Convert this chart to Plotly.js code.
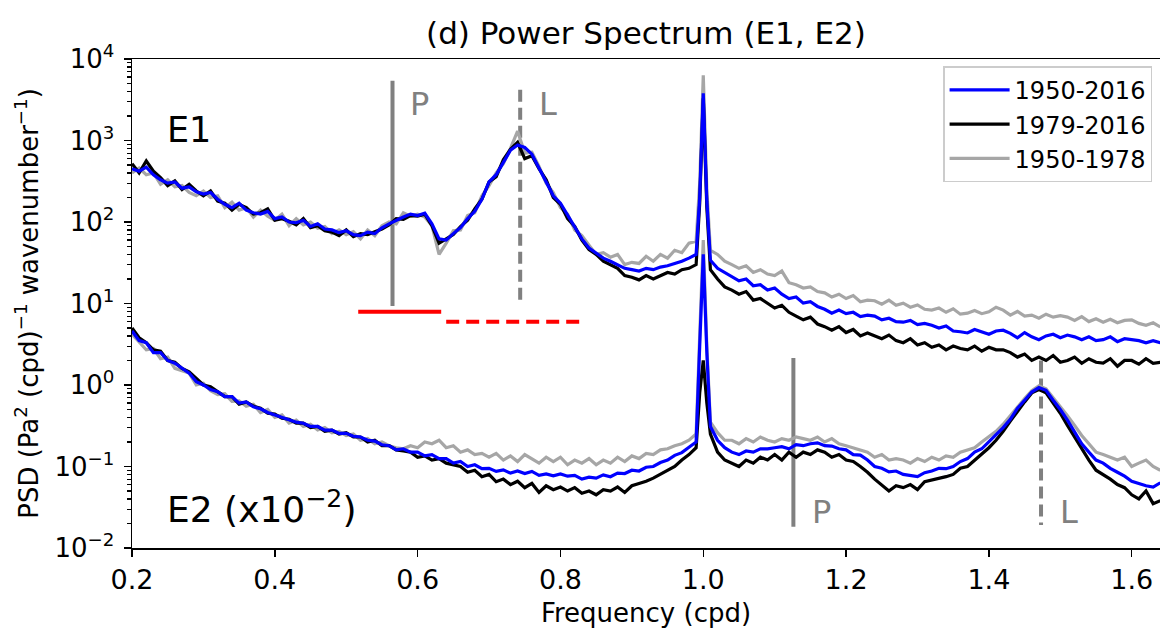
<!DOCTYPE html>
<html>
<head>
<meta charset="utf-8">
<script src="https://cdn.plot.ly/plotly-3.0.1.min.js"></script>
<style>html,body{margin:0;padding:0;background:#fff;}#chart{width:1160px;height:628px;}</style>
</head>
<body>
<div id="chart"></div>
<script>
// Frequency (cpd)
const freq = [
0.20,0.21,0.22,0.23,0.24,0.25,0.26,0.27,0.28,0.29,
0.30,0.31,0.32,0.33,0.34,0.35,0.36,0.37,0.38,0.39,
0.40,0.41,0.42,0.43,0.44,0.45,0.46,0.47,0.48,0.49,
0.50,0.51,0.52,0.53,0.54,0.55,0.56,0.57,0.58,0.59,
0.60,0.61,0.62,0.63,0.64,0.65,0.66,0.67,0.68,0.69,
0.70,0.71,0.72,0.73,0.74,0.75,0.76,0.77,0.78,0.79,
0.80,0.81,0.82,0.83,0.84,0.85,0.86,0.87,0.88,0.89,
0.90,0.91,0.92,0.93,0.94,0.95,0.96,0.97,0.98,0.99,
0.995,1.000,1.005,
1.01,1.02,1.03,1.04,1.05,1.06,1.07,1.08,1.09,
1.10,1.11,1.12,1.13,1.14,1.15,1.16,1.17,1.18,1.19,
1.20,1.21,1.22,1.23,1.24,1.25,1.26,1.27,1.28,1.29,
1.30,1.31,1.32,1.33,1.34,1.35,1.36,1.37,1.38,1.39,
1.40,1.41,1.42,1.43,1.44,1.45,1.46,1.47,1.48,1.49,
1.50,1.51,1.52,1.53,1.54,1.55,1.56,1.57,1.58,1.59,
1.60,1.61,1.62,1.63,1.64];

// E1 spectra
const e1_1950_2016 = [
450,420,470,380,330,300,310,260,270,235,
220,230,190,165,150,170,140,130,125,135,
110,115,100,98,105,88,95,82,80,74,
78,70,68,75,72,85,95,105,115,125,
120,128,95,62,60,72,85,110,135,190,
310,380,550,760,880,820,680,460,320,210,
170,120,85,62,48,42,36,33,30,27,
26,25,27,26,28,29,31,33,36,40,
200,3800,180,
34,27,24,21,19,20,16.5,17,14.6,
15.5,13,11.5,12,10.1,10.5,9.2,8.5,7.6,8.3,
7.5,7.8,6.9,7.2,7.0,6.3,6.6,6.0,5.9,6.2,
5.5,5.7,5.4,5.0,5.3,4.6,4.5,4.35,4.8,4.5,
4.2,4.6,4.7,4.3,3.8,4.4,3.9,3.6,4.0,4.2,
3.8,4.1,3.9,3.6,3.9,3.5,3.6,3.9,3.4,3.7,
3.6,3.5,3.3,3.5,3.3];

const e1_1979_2016 = [
520,400,560,420,350,280,320,250,290,240,
210,240,180,170,140,165,150,125,130,145,
105,110,102,92,110,85,90,78,75,68,
80,66,72,70,76,82,92,110,108,120,
118,125,90,55,62,70,88,105,145,190,
310,360,580,780,950,600,650,450,330,200,
165,110,88,60,46,40,33,30,27,22,
21,19.5,22,20,22,24,23,26,27,30,
170,3300,150,
26,20,16,14.6,13,14,11,11.5,10.1,
8.8,9.5,7.8,7.0,6.3,6.8,5.6,5.2,4.7,5.2,
4.4,4.8,4.0,4.35,4.0,3.7,4.1,3.5,3.3,3.7,
3.1,3.3,2.9,3.1,2.7,3.0,2.8,2.7,3.0,2.6,
2.9,2.7,2.7,2.5,2.2,2.4,2.0,2.2,2.0,2.3,
1.9,2.0,2.2,1.85,2.1,1.9,1.86,2.1,1.7,2.0,
2.0,1.8,2.1,1.85,1.9];

const e1_1950_1978 = [
400,460,380,400,290,330,270,280,230,210,
240,200,210,150,175,140,150,115,140,118,
105,125,90,110,92,100,84,88,72,80,
70,76,62,80,68,90,100,95,130,118,
125,115,90,40,55,78,80,120,130,210,
280,400,520,800,1300,700,720,480,300,230,
150,125,80,68,52,40,42,37,40,30,
32,31,38,33,40,36,45,42,55,58,
300,6300,250,
45,40,33,30,27,29,24,26,23,
22,25,18,17,15.5,16,14,13.5,12,13,
11.5,12.5,10.5,11,10.8,9.8,11,9.5,10.1,9.0,
9.6,8.5,8.3,8.8,7.8,8.6,7.4,7.6,8.2,7.5,
7.9,9.0,8.3,7.2,8.0,7.0,7.2,6.6,7.4,6.8,
7.1,6.8,6.2,6.9,6.0,6.5,5.9,6.4,5.8,6.2,
6.3,5.7,5.4,5.8,5.15];

// E2 spectra (already scaled by 10^-2)
const e2_1950_2016 = [
4.6,3.5,3.3,2.5,2.5,2.0,1.85,1.6,1.4,1.1,
1.0,0.88,0.83,0.72,0.72,0.60,0.62,0.54,0.51,0.46,
0.43,0.40,0.38,0.35,0.34,0.31,0.31,0.28,0.28,0.255,
0.255,0.235,0.23,0.21,0.205,0.185,0.18,0.16,0.165,0.15,
0.15,0.135,0.14,0.125,0.125,0.11,0.115,0.10,0.105,0.094,
0.095,0.087,0.091,0.083,0.088,0.082,0.087,0.078,0.081,0.077,
0.081,0.076,0.078,0.07,0.074,0.072,0.079,0.075,0.083,0.082,
0.09,0.088,0.098,0.10,0.112,0.12,0.137,0.148,0.172,0.20,
3,40,2.5,
0.31,0.21,0.17,0.15,0.14,0.155,0.15,0.165,0.165,
0.17,0.175,0.165,0.185,0.18,0.19,0.195,0.18,0.178,0.165,
0.16,0.14,0.138,0.12,0.10,0.095,0.086,0.088,0.08,0.078,
0.075,0.084,0.088,0.095,0.094,0.10,0.115,0.125,0.15,0.165,
0.20,0.25,0.30,0.38,0.52,0.65,0.82,0.93,0.86,0.65,
0.50,0.37,0.27,0.19,0.15,0.12,0.11,0.095,0.085,0.076,
0.066,0.062,0.058,0.056,0.063];

const e2_1979_2016 = [
5.0,3.8,3.3,2.7,2.6,2.0,1.9,1.6,1.45,1.2,
1.0,0.95,0.82,0.72,0.72,0.58,0.62,0.55,0.52,0.45,
0.44,0.39,0.38,0.34,0.34,0.30,0.31,0.27,0.28,0.25,
0.26,0.23,0.23,0.20,0.21,0.18,0.18,0.16,0.155,0.15,
0.13,0.135,0.12,0.125,0.11,0.105,0.10,0.085,0.09,0.075,
0.08,0.065,0.07,0.06,0.066,0.055,0.062,0.048,0.058,0.052,
0.056,0.05,0.055,0.047,0.05,0.045,0.052,0.05,0.056,0.048,
0.058,0.062,0.066,0.072,0.08,0.09,0.10,0.12,0.14,0.17,
0.8,2.0,0.6,
0.25,0.15,0.12,0.11,0.10,0.12,0.11,0.13,0.12,
0.14,0.12,0.15,0.13,0.15,0.14,0.16,0.15,0.13,0.14,
0.12,0.115,0.10,0.085,0.07,0.06,0.05,0.058,0.055,0.06,
0.052,0.065,0.068,0.072,0.075,0.08,0.095,0.10,0.12,0.14,
0.17,0.21,0.27,0.36,0.48,0.62,0.80,0.88,0.80,0.60,
0.45,0.32,0.23,0.16,0.12,0.09,0.08,0.07,0.06,0.055,
0.045,0.04,0.05,0.035,0.038];

const e2_1950_1978 = [
4.2,3.4,2.7,2.8,2.1,2.2,1.6,1.5,1.4,1.0,
1.05,0.85,0.76,0.78,0.63,0.64,0.55,0.58,0.46,0.50,
0.40,0.43,0.34,0.37,0.31,0.33,0.28,0.30,0.26,0.27,
0.24,0.25,0.21,0.22,0.19,0.20,0.18,0.17,0.165,0.18,
0.17,0.20,0.19,0.21,0.17,0.18,0.15,0.16,0.14,0.145,
0.13,0.145,0.12,0.135,0.115,0.14,0.125,0.11,0.13,0.115,
0.13,0.105,0.12,0.11,0.125,0.105,0.12,0.11,0.13,0.115,
0.135,0.125,0.145,0.14,0.16,0.165,0.18,0.19,0.21,0.25,
4,60,3,
0.35,0.26,0.21,0.21,0.19,0.22,0.20,0.23,0.21,
0.20,0.22,0.21,0.23,0.22,0.21,0.23,0.20,0.22,0.19,
0.18,0.17,0.16,0.15,0.13,0.14,0.12,0.125,0.12,0.11,
0.125,0.115,0.13,0.12,0.135,0.13,0.15,0.16,0.17,0.20,
0.23,0.27,0.33,0.42,0.55,0.68,0.85,0.98,0.90,0.70,
0.55,0.42,0.32,0.24,0.19,0.15,0.14,0.13,0.12,0.13,
0.10,0.11,0.12,0.10,0.09];

// Reference markers: [x, yTop, yBottom]
const e1_P = [0.5648, 5400, 9.3];
const e1_L = [0.7436, 4200, 10];
const e2_P = [1.1262, 2.14, 0.0182];
const e2_L = [1.473, 2.0, 0.0192];
// Red bands: [x0, x1, y]
const redSolid = [0.5168, 0.633, 7.93];
const redDash  = [0.640, 0.8347, 5.98];

const seriesNames = ['1950-2016','1979-2016','1950-1978'];
const seriesColors = ['#0000ff','#000000','#a6a6a6'];

const yTickVals = [1e-2,1e-1,1e0,1e1,1e2,1e3,1e4];
const yTickText = ['10<sup>−2</sup>','10<sup>−1</sup>','10<sup>0</sup>','10<sup>1</sup>','10<sup>2</sup>','10<sup>3</sup>','10<sup>4</sup>'];
const xTickVals = [0.2,0.4,0.6,0.8,1.0,1.2,1.4,1.6];
const xTickText = ['0.2','0.4','0.6','0.8','1.0','1.2','1.4','1.6'];

const minorY = [];
for (let e = -2; e < 4; e++) for (let m = 2; m <= 9; m++) minorY.push(m * Math.pow(10, e));

const traces = [];
function vline(m, dash) {
  traces.push({x:[m[0],m[0]], y:[m[1],m[2]], mode:'lines', showlegend:false, hoverinfo:'skip',
    line:{color:'#808080', width:4, dash: dash ? '12px,6px' : 'solid'}});
}
vline(e1_P, false); vline(e1_L, true); vline(e2_P, false); vline(e2_L, true);
traces.push({x:[redSolid[0],redSolid[1]], y:[redSolid[2],redSolid[2]], mode:'lines', showlegend:false, hoverinfo:'skip', line:{color:'#ff0000', width:4}});
traces.push({x:[redDash[0],redDash[1]], y:[redDash[2],redDash[2]], mode:'lines', showlegend:false, hoverinfo:'skip', line:{color:'#ff0000', width:4, dash:'13px,7px'}});

const e1 = [e1_1950_2016, e1_1979_2016, e1_1950_1978];
const e2 = [e2_1950_2016, e2_1979_2016, e2_1950_1978];
[2,1,0].forEach(i => {
  traces.push({x:freq, y:e1[i], mode:'lines', name:seriesNames[i], legendgroup:seriesNames[i],
    showlegend:true, line:{color:seriesColors[i], width:3.2}});
});
[2,1,0].forEach(i => {
  traces.push({x:freq, y:e2[i], mode:'lines', name:seriesNames[i], legendgroup:seriesNames[i],
    showlegend:false, line:{color:seriesColors[i], width:3.2}});
});

const L10 = Math.log10;
const annotations = [
  {text:'E1', x:0.2466, y:L10(1350), xref:'x', yref:'y', xanchor:'left', yanchor:'middle', showarrow:false, font:{size:35, color:'black'}},
  {text:'E2 (x10<sup>−2</sup>)', x:0.2466, y:-1.50, xref:'x', yref:'y', xanchor:'left', yanchor:'middle', showarrow:false, font:{size:36, color:'black'}},
  {text:'P', x:0.5868, y:3.454, xref:'x', yref:'y', xanchor:'left', yanchor:'middle', showarrow:false, font:{size:32, color:'#808080'}},
  {text:'L', x:0.7675, y:3.454, xref:'x', yref:'y', xanchor:'left', yanchor:'middle', showarrow:false, font:{size:32, color:'#808080'}},
  {text:'P', x:1.1496, y:-1.564, xref:'x', yref:'y', xanchor:'left', yanchor:'middle', showarrow:false, font:{size:32, color:'#808080'}},
  {text:'L', x:1.497, y:-1.564, xref:'x', yref:'y', xanchor:'left', yanchor:'middle', showarrow:false, font:{size:32, color:'#808080'}}
];

const layout = {
  width:1160, height:628,
  margin:{l:132, r:0, t:59, b:80},
  paper_bgcolor:'white', plot_bgcolor:'white',
  font:{family:'DejaVu Sans', size:27, color:'black'},
  title:{text:'(d) Power Spectrum (E1, E2)', x:0.5, xref:'paper', xanchor:'center', y:0.947, yref:'container', yanchor:'middle', font:{size:31, color:'black'}},
  xaxis:{range:[0.2,1.6396], tickmode:'array', tickvals:xTickVals, ticktext:xTickText,
    ticks:'outside', ticklen:7, tickwidth:1.5, tickcolor:'black', tickfont:{size:27},
    showline:true, linewidth:1.5, linecolor:'black', mirror:true, showgrid:false, zeroline:false,
    title:{text:'Frequency (cpd)', standoff:10, font:{size:26}}},
  yaxis:{type:'log', range:[-2,4], tickmode:'array', tickvals:yTickVals, ticktext:yTickText,
    ticks:'outside', ticklen:7, tickwidth:1.5, tickcolor:'black', tickfont:{size:26}, ticklabelstandoff:4,
    minor:{tickmode:'array', tickvals:minorY, ticks:'outside', ticklen:4, tickwidth:1.2, tickcolor:'black', showgrid:false},
    showline:true, linewidth:1.5, linecolor:'black', showgrid:false, zeroline:false,
    title:{text:'PSD (Pa<sup>2</sup> (cpd)<sup>−1</sup> wavenumber<sup>−1</sup>)', standoff:8, font:{size:26}}},
  legend:{x:0.789, y:0.985, xanchor:'left', yanchor:'top', bgcolor:'white', bordercolor:'#cccccc', borderwidth:1.5,
    font:{size:24, color:'black'}, traceorder:'reversed', itemwidth:60},
  showlegend:true,
  annotations:annotations
};

Plotly.newPlot('chart', traces, layout, {displayModeBar:false, staticPlot:true});
</script>
</body>
</html>
